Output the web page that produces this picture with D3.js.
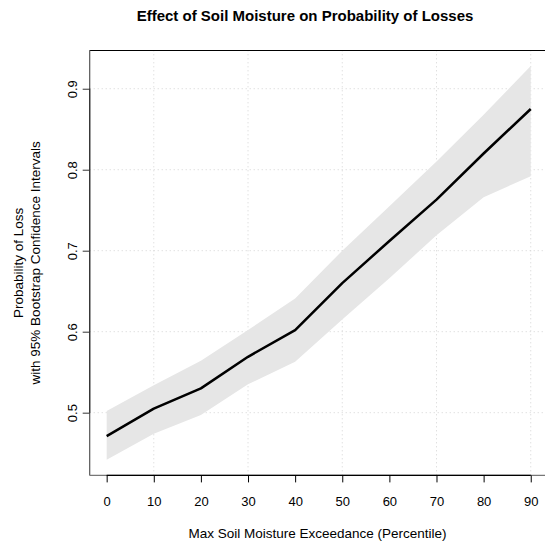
<!DOCTYPE html>
<html>
<head>
<meta charset="utf-8">
<script src="https://cdn.jsdelivr.net/npm/d3@7"></script>
<style>
  html, body { margin: 0; padding: 0; background: #fff; }
  svg { display: block; font-family: "Liberation Sans", Arial, Helvetica, sans-serif; }
</style>
</head>
<body>
<svg id="chart" width="545" height="546"></svg>
<script>
// ---- data ----
const percentile = [0, 10, 20, 30, 40, 50, 60, 70, 80, 90];
const probMean  = [0.471, 0.505, 0.530, 0.569, 0.602, 0.660, 0.712, 0.763, 0.820, 0.875];
const probUpper = [0.502, 0.534, 0.564, 0.602, 0.641, 0.700, 0.755, 0.810, 0.868, 0.928];
const probLower = [0.442, 0.474, 0.497, 0.535, 0.563, 0.615, 0.666, 0.719, 0.766, 0.792];
const xTicks = [0, 10, 20, 30, 40, 50, 60, 70, 80, 90];
const yTicks = [0.5, 0.6, 0.7, 0.8, 0.9];
const xGrid = [10, 30, 50, 70, 90];
const yGrid = [0.5, 0.6, 0.7, 0.8, 0.9];
const titleText = "Effect of Soil Moisture on Probability of Losses";
const xTitle = "Max Soil Moisture Exceedance (Percentile)";
const yTitle1 = "Probability of Loss";
const yTitle2 = "with 95% Bootstrap Confidence Intervals";

(function () {
const rows = percentile.map((p, i) => ({ p, m: probMean[i], lo: probLower[i], hi: probUpper[i] }));

// R-style 4% padding on the ranges
const xExt = d3.extent(percentile), xPad = (xExt[1] - xExt[0]) * 0.04;
const yExt = [d3.min(probLower), d3.max(probUpper)], yPad = (yExt[1] - yExt[0]) * 0.04;

const pL = 89.7, pR = 547.7, pT = 50.3, pB = 475.4;
const x = d3.scaleLinear().domain([xExt[0] - xPad, xExt[1] + xPad]).range([pL, pR]);
const y = d3.scaleLinear().domain([yExt[0] - yPad, yExt[1] + yPad]).range([pB, pT]);

const svg = d3.select("#chart");
const tickFont = 13, labFont = 13.5;

// grid
svg.append("g").selectAll("line").data(xGrid).join("line")
  .attr("x1", d => x(d)).attr("x2", d => x(d)).attr("y1", pT).attr("y2", pB)
  .attr("stroke", "#d3d3d3").attr("stroke-width", 1).attr("stroke-dasharray", "1,3");
svg.append("g").selectAll("line").data(yGrid).join("line")
  .attr("y1", d => y(d)).attr("y2", d => y(d)).attr("x1", pL).attr("x2", pR)
  .attr("stroke", "#d3d3d3").attr("stroke-width", 1).attr("stroke-dasharray", "1,3");

// confidence band
svg.append("path").datum(rows)
  .attr("d", d3.area().x(d => x(d.p)).y0(d => y(d.lo)).y1(d => y(d.hi)))
  .attr("fill", "#e6e6e6").attr("stroke", "none");

// mean line
svg.append("path").datum(rows)
  .attr("d", d3.line().x(d => x(d.p)).y(d => y(d.m)))
  .attr("fill", "none").attr("stroke", "#000").attr("stroke-width", 2.5)
  .attr("stroke-linejoin", "round");

// box
svg.append("line").attr("x1", pL).attr("x2", pR).attr("y1", Math.round(pT) + 0.5).attr("y2", Math.round(pT) + 0.5)
  .attr("stroke", "#000").attr("stroke-width", 1);
svg.append("line").attr("x1", pL).attr("x2", pL).attr("y1", pT).attr("y2", pB)
  .attr("stroke", "#555").attr("stroke-width", 1.2);
svg.append("line").attr("x1", pL).attr("x2", pR).attr("y1", pB).attr("y2", pB)
  .attr("stroke", "#777").attr("stroke-width", 1.2);

// x axis
const xAxis = d3.axisBottom(x).tickValues(xTicks).tickSize(7).tickPadding(14).tickFormat(d3.format("d"));
const gx = svg.append("g").attr("transform", `translate(0,${pB})`).call(xAxis);
gx.select(".domain").attr("d", `M${x(xTicks[0])},0H${x(xTicks[xTicks.length - 1])}`).attr("stroke", "#000").attr("stroke-width", 1.2);
gx.selectAll(".tick line").attr("stroke", "#000").attr("stroke-width", 1);
gx.selectAll(".tick text").attr("font-size", tickFont).attr("fill", "#000")
  .attr("font-family", "Liberation Sans, Arial, sans-serif");

// y axis
const yAxis = d3.axisLeft(y).tickValues(yTicks).tickSize(7).tickFormat(d3.format(".1f"));
const gy = svg.append("g").attr("transform", `translate(${pL},0)`).call(yAxis);
gy.select(".domain").attr("d", `M0,${y(yTicks[0])}V${y(yTicks[yTicks.length - 1])}`).attr("stroke", "#333").attr("stroke-width", 1.2);
gy.selectAll(".tick line").attr("stroke", "#333").attr("stroke-width", 1);
gy.selectAll(".tick text").remove();
gy.selectAll(".tick").append("text")
  .attr("transform", "translate(-17,0) rotate(-90)")
  .attr("text-anchor", "middle").attr("dy", "0.35em")
  .attr("font-size", tickFont).attr("fill", "#000")
  .attr("font-family", "Liberation Sans, Arial, sans-serif")
  .text(d => d3.format(".1f")(d));

// titles
const cx = (pL + pR) / 2, cy = (pT + pB) / 2;
svg.append("text").attr("x", 305).attr("y", 21).attr("text-anchor", "middle")
  .attr("font-size", 15).attr("font-weight", "bold").attr("fill", "#000").text(titleText);
svg.append("text").attr("x", 317.5).attr("y", 538).attr("text-anchor", "middle")
  .attr("font-size", labFont).attr("fill", "#000").text(xTitle);
svg.append("text").attr("transform", `translate(23,${cy}) rotate(-90)`).attr("text-anchor", "middle")
  .attr("font-size", labFont).attr("fill", "#000").text(yTitle1);
svg.append("text").attr("transform", `translate(39.5,${cy}) rotate(-90)`).attr("text-anchor", "middle")
  .attr("font-size", labFont).attr("fill", "#000").text(yTitle2);
})();
</script>
</body>
</html>
